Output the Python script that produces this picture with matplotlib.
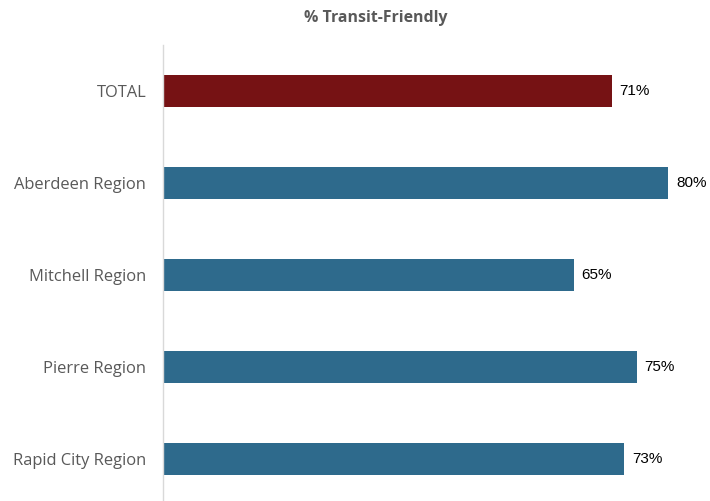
import matplotlib
matplotlib.use("Agg")
import matplotlib.pyplot as plt

# data
categories = ["TOTAL", "Aberdeen Region", "Mitchell Region", "Pierre Region", "Rapid City Region"]
values = [71, 80, 65, 75, 73]
bar_colors = ["#761214", "#2E6A8C", "#2E6A8C", "#2E6A8C", "#2E6A8C"]

fig = plt.figure(figsize=(7.1, 5.01), dpi=100)
ax = fig.add_axes([163 / 710, -4 / 501, 537 / 710, 460 / 501])

y = list(range(len(categories)))
ax.barh(y, values, height=0.35, color=bar_colors)

for yi, v in zip(y, values):
    ax.text(v + 1.2, yi, f"{v}%", va="center", ha="left",
            fontsize=11, family="Liberation Sans", color="black")

ax.set_ylim(len(categories) - 0.5, -0.5)
ax.set_xlim(0, 85)
ax.set_yticks(y)
ax.set_yticklabels(categories, fontsize=11.9, family="Open Sans", color="#595959")
ax.tick_params(axis="y", length=0, pad=12)
ax.set_xticks([])

for side in ["top", "right", "bottom"]:
    ax.spines[side].set_visible(False)
ax.spines["left"].set_color("#D9D9D9")
ax.spines["left"].set_linewidth(1)

fig.text(376 / 710, 0.965, "% Transit-Friendly", ha="center", va="center",
         fontsize=11.4, fontweight="bold", family="Open Sans", color="#595959")

fig.savefig("out.png", dpi=100)
